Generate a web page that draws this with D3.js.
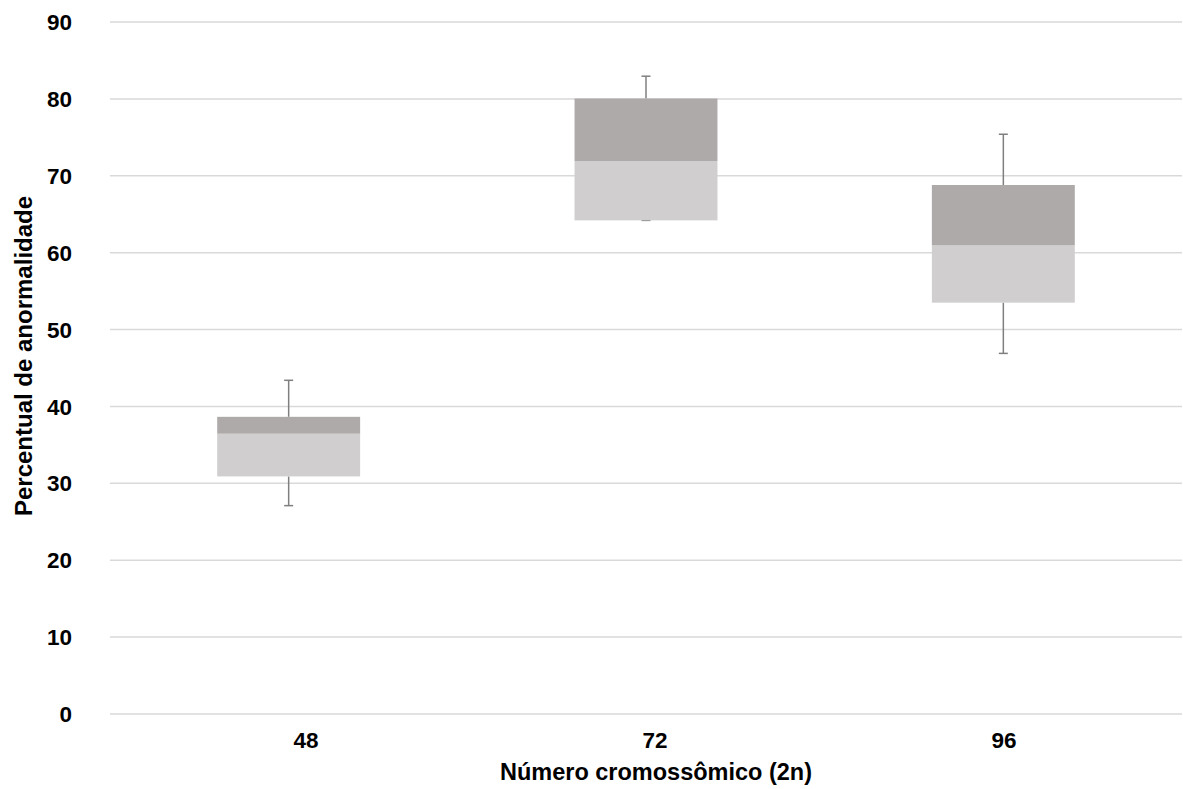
<!DOCTYPE html>
<html>
<head>
<meta charset="utf-8">
<script src="https://cdn.jsdelivr.net/npm/d3@7"></script>
<style>
  body { margin: 0; background: #fff; }
  text { font-family: "Liberation Sans", Arial, sans-serif; font-weight: bold; fill: #000; }
</style>
</head>
<body>
<svg id="chart" width="1183" height="789"></svg>
<script>
const categories = ['48', '72', '96'];
const mins    = [27.1, 64.2, 46.9];
const q1s     = [30.9, 64.2, 53.5];
const medians = [36.45, 71.9, 60.95];
const q3s     = [38.65, 80.05, 68.8];
const maxs    = [43.4, 82.95, 75.4];
const yTicks  = [0, 10, 20, 30, 40, 50, 60, 70, 80, 90];

const data = categories.map((c, i) => ({
  cat: c, min: mins[i], q1: q1s[i], med: medians[i], q3: q3s[i], max: maxs[i]
}));

const svg = d3.select("#chart");
const plotLeft = 110, plotRight = 1182, plotTop = 22, plotBottom = 714;

const x = d3.scaleBand().domain(categories).range([plotLeft, plotRight]).padding(0);
// tick labels sit slightly right of the box centres in the original
const xLabel = d3.scalePoint().domain(categories).range([306, 1004]);
const y = d3.scaleLinear().domain([0, 90]).range([plotBottom, plotTop]);
const boxW = x.bandwidth() * 0.4;
const capW = 9;

// gridlines
svg.append("g")
  .selectAll("line")
  .data(yTicks)
  .join("line")
  .attr("x1", plotLeft).attr("x2", plotRight)
  .attr("y1", d => y(d)).attr("y2", d => y(d))
  .attr("stroke", "#d9d9d9")
  .attr("stroke-width", 1.5);

// y tick labels
svg.append("g")
  .selectAll("text")
  .data(yTicks)
  .join("text")
  .attr("x", 72)
  .attr("y", d => y(d))
  .attr("dy", "0.36em")
  .attr("text-anchor", "end")
  .style("font-size", "22.5px")
  .text(d => d);

// x tick labels
svg.append("g")
  .selectAll("text")
  .data(categories)
  .join("text")
  .attr("x", d => xLabel(d))
  .attr("y", 748)
  .attr("text-anchor", "middle")
  .style("font-size", "22.5px")
  .text(d => d);

// axis titles
svg.append("text")
  .attr("x", 656)
  .attr("y", 780)
  .attr("text-anchor", "middle")
  .style("font-size", "23.5px")
  .text("Número cromossômico (2n)");

svg.append("text")
  .attr("transform", "translate(32,356) rotate(-90)")
  .attr("text-anchor", "middle")
  .style("font-size", "24px")
  .text("Percentual de anormalidade");

const boxes = svg.append("g")
  .selectAll("g")
  .data(data)
  .join("g");

const cx = d => x(d.cat) + x.bandwidth() / 2;

// whiskers
boxes.append("line")
  .attr("x1", cx).attr("x2", cx)
  .attr("y1", d => y(d.max)).attr("y2", d => y(d.q3))
  .attr("stroke", "#7f7f7f").attr("stroke-width", 1.5);
boxes.append("line")
  .attr("x1", cx).attr("x2", cx)
  .attr("y1", d => y(d.q1)).attr("y2", d => y(d.min))
  .attr("stroke", "#7f7f7f").attr("stroke-width", 1.5);
boxes.append("line")
  .attr("x1", d => cx(d) - capW / 2).attr("x2", d => cx(d) + capW / 2)
  .attr("y1", d => y(d.max)).attr("y2", d => y(d.max))
  .attr("stroke", "#7f7f7f").attr("stroke-width", 1.5);
boxes.append("line")
  .attr("x1", d => cx(d) - capW / 2).attr("x2", d => cx(d) + capW / 2)
  .attr("y1", d => y(d.min)).attr("y2", d => y(d.min))
  .attr("stroke", "#7f7f7f").attr("stroke-width", 1.5);

// lower half (q1 -> median)
boxes.append("rect")
  .attr("x", d => cx(d) - boxW / 2)
  .attr("width", boxW)
  .attr("y", d => y(d.med))
  .attr("height", d => y(d.q1) - y(d.med))
  .attr("fill", "#d0cece");

// upper half (median -> q3)
boxes.append("rect")
  .attr("x", d => cx(d) - boxW / 2)
  .attr("width", boxW)
  .attr("y", d => y(d.q3))
  .attr("height", d => y(d.med) - y(d.q3))
  .attr("fill", "#aeaaa9");
</script>
</body>
</html>
